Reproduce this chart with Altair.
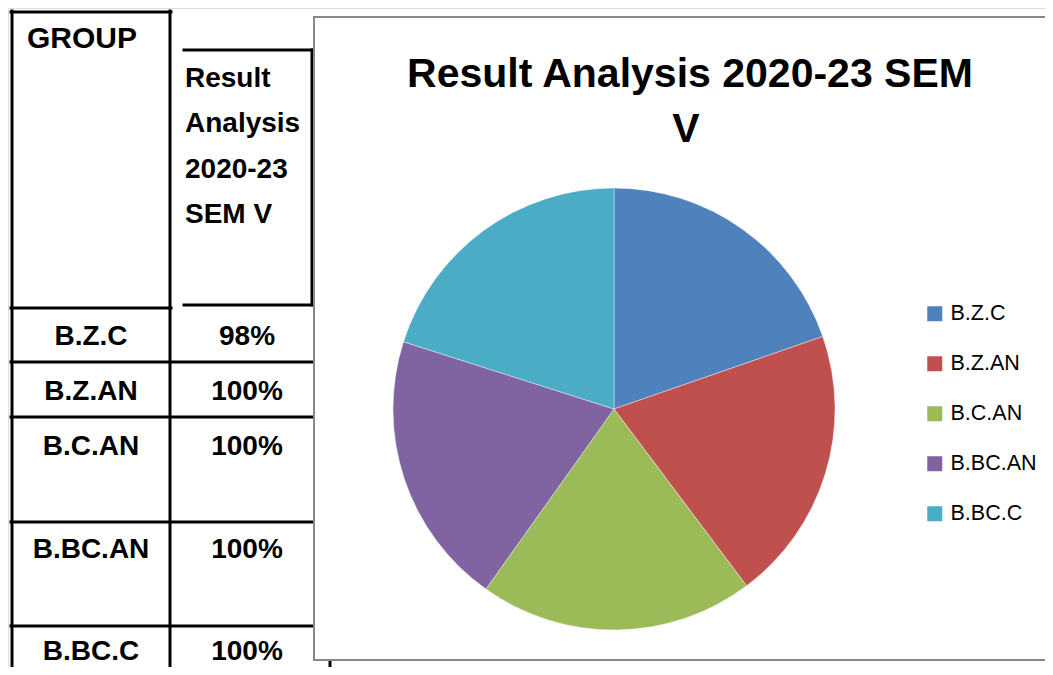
import altair as alt
import pandas as pd

# ---------------- data ----------------
groups = ["B.Z.C", "B.Z.AN", "B.C.AN", "B.BC.AN", "B.BC.C"]
results = [98, 100, 100, 100, 100]
result_labels = ["98%", "100%", "100%", "100%", "100%"]
colors = ["#4F81BD", "#C0504D", "#9BBB59", "#8064A2", "#4BACC6"]
title_lines = ["Result Analysis 2020-23 SEM", "V"]
col1_header = "GROUP"
col2_header = "Result\nAnalysis\n2020-23\nSEM V"

# ---------------- layout (reference pixel coordinates) ----------------
OFF = 8
W, H = 1037, 659
FONT = "Liberation Sans"
row_baselines = [345, 400, 455, 558, 660]
group_x, result_x = 91, 247
title_pos = [(690, 87), (686, 142)]
pie_cx, pie_cy, pie_r = 614, 409, 221

xs = alt.Scale(domain=[OFF, OFF + W], nice=False, zero=False)
ys = alt.Scale(domain=[OFF, OFF + H], nice=False, zero=False, reverse=True)

lines = pd.DataFrame(
    [
        (12, 12, 11, 675),
        (170, 170, 11, 675),
        (11, 171, 12, 12),
        (11, 171, 308, 308),
        (184, 313, 50, 50),
        (312, 312, 50, 305),
        (184, 313, 305, 305),
        (11, 313, 362, 362),
        (11, 313, 417, 417),
        (11, 313, 522, 522),
        (11, 313, 626, 626),
        (330, 330, 660, 675),
    ],
    columns=["x", "x2", "y", "y2"],
)

def X(f):
    return alt.X(f, type="quantitative", scale=xs, axis=None)

def Y(f):
    return alt.Y(f, type="quantitative", scale=ys, axis=None)

rules = alt.Chart(lines).mark_rule(color="black", strokeWidth=3, strokeCap="square").encode(
    x=X("x"), x2="x2", y=Y("y"), y2="y2"
)

hdr = pd.DataFrame({"t": [col1_header, col2_header], "x": [27, 185], "y": [48, 87]})
hdr1 = alt.Chart(hdr.iloc[[0]]).mark_text(
    align="left", baseline="alphabetic", font=FONT, fontSize=30, fontWeight="bold", color="black"
).encode(x=X("x"), y=Y("y"), text="t:N")
hdr2 = alt.Chart(hdr.iloc[[1]]).mark_text(
    align="left", baseline="alphabetic", font=FONT, fontSize=28, fontWeight="bold", color="black",
    lineBreak="\n", lineHeight=45.3
).encode(x=X("x"), y=Y("y"), text="t:N")

rows = pd.DataFrame({"group": groups, "res": result_labels, "y": row_baselines,
                     "gx": [group_x] * 5, "rx": [result_x] * 5})
row_g = alt.Chart(rows).mark_text(
    align="center", baseline="alphabetic", font=FONT, fontSize=28, fontWeight="bold", color="black"
).encode(x=X("gx"), y=Y("y"), text="group:N")
row_r = alt.Chart(rows).mark_text(
    align="center", baseline="alphabetic", font=FONT, fontSize=28, fontWeight="bold", color="black"
).encode(x=X("rx"), y=Y("y"), text="res:N")

box_df = pd.DataFrame({"x": [314], "x2": [1052], "y": [17], "y2": [660]})
box = alt.Chart(box_df).mark_rect(fill="white", stroke="#888888", strokeWidth=2).encode(
    x=X("x"), x2="x2", y=Y("y"), y2="y2"
)

tdf = pd.DataFrame({"t": title_lines, "x": [p[0] for p in title_pos], "y": [p[1] for p in title_pos]})
title = alt.Chart(tdf).mark_text(
    align="center", baseline="alphabetic", font=FONT, fontSize=41, fontWeight="bold", color="black"
).encode(x=X("x"), y=Y("y"), text="t:N")

pie_df = pd.DataFrame({"group": groups, "result": results, "idx": list(range(len(groups)))})
pie = alt.Chart(pie_df).mark_arc(radius=pie_r, stroke="white", strokeWidth=0.4).encode(
    theta=alt.Theta("result:Q", stack=True),
    color=alt.Color(
        "group:N",
        scale=alt.Scale(domain=groups, range=colors),
        legend=alt.Legend(
            title=None, orient="none", legendX=916, legendY=295, direction="vertical",
            symbolType="square", symbolSize=225, symbolStrokeWidth=0,
            labelFont=FONT, labelFontSize=21.5, labelColor="black",
            rowPadding=27, labelOffset=5, padding=0,
        ),
    ),
    order=alt.Order("idx:Q"),
    x=alt.value(pie_cx - OFF),
    y=alt.value(pie_cy - OFF),
)

chart = alt.layer(rules, hdr1, hdr2, row_g, row_r, box, title, pie).properties(
    width=W, height=H, padding=0, autosize=alt.AutoSizeParams(type="none")
).configure_view(strokeWidth=0, stroke="transparent").configure(background="white")

chart.save("out.html", embed_options={"renderer": "svg", "actions": False})
